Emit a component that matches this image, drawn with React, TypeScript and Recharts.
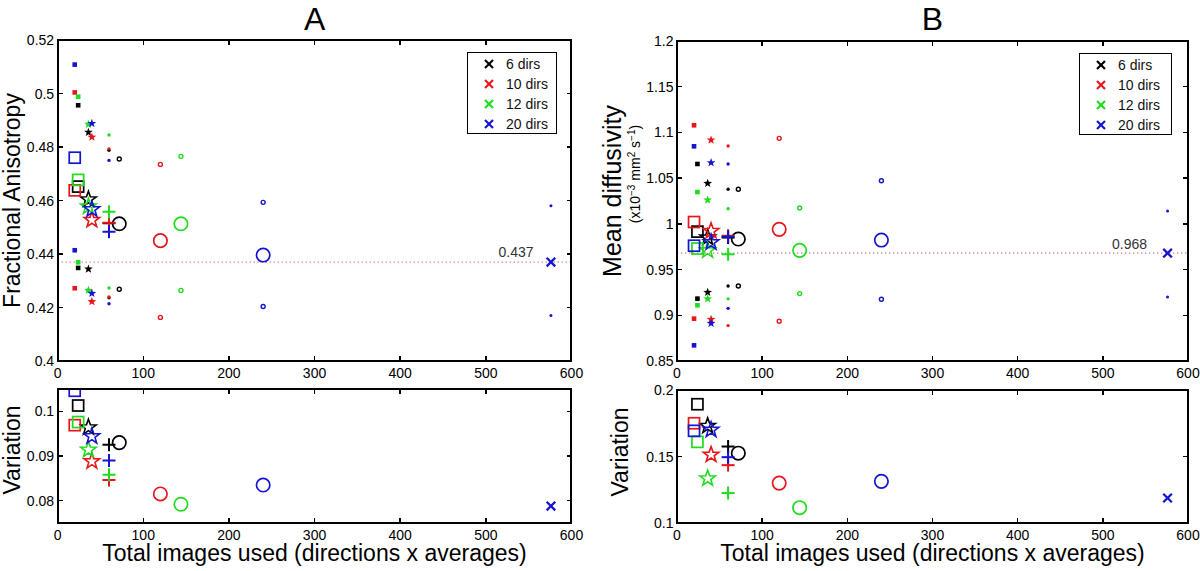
import React from 'react';
import { ScatterChart, Scatter, XAxis, YAxis, ReferenceLine, Legend } from 'recharts';

// ---------- data ----------
const dirLabels = ['6 dirs', '10 dirs', '12 dirs', '20 dirs'];
const markerKinds = ['square', 'star', 'plus', 'circle', 'cross'];

// total images used (directions x averages) for each marker of each scheme
const images6 = [24, 36, 60, 72];
const images10 = [20, 40, 60, 120];
const images12 = [24, 36, 60, 144];
const images20 = [20, 40, 60, 240, 576];

// Fractional anisotropy: mean, upper and lower values
const faMean6 = [0.4652, 0.4604, 0.4515, 0.4513];
const faMean10 = [0.4638, 0.4527, 0.4517, 0.445];
const faMean12 = [0.4677, 0.4577, 0.4558, 0.4513];
const faMean20 = [0.476, 0.4567, 0.4483, 0.4396, 0.437];
const faUpper6 = [0.4956, 0.4855, 0.4788, 0.4755];
const faUpper10 = [0.5004, 0.4837, 0.4793, 0.4735];
const faUpper12 = [0.4988, 0.4885, 0.4845, 0.4765];
const faUpper20 = [0.5108, 0.4888, 0.475, 0.4593, 0.458];
const faLower6 = [0.4348, 0.4344, 0.4236, 0.4268];
const faLower10 = [0.4272, 0.4222, 0.4239, 0.4163];
const faLower12 = [0.4369, 0.4264, 0.4273, 0.4264];
const faLower20 = [0.4414, 0.4253, 0.4214, 0.4204, 0.417];

// FA variation
const faVar6 = [0.1013, 0.0964, 0.0925, 0.093];
const faVar10 = [0.0969, 0.0888, 0.0846, 0.0815];
const faVar12 = [0.0976, 0.0914, 0.0858, 0.0792];
const faVar20 = [0.1046, 0.0944, 0.089, 0.0835, 0.0788];

// Mean diffusivity: mean, upper and lower values
const mdMean6 = [0.9915, 0.985, 0.985, 0.9834];
const mdMean10 = [1.002, 0.9922, 0.987, 0.994];
const mdMean12 = [0.973, 0.971, 0.9667, 0.971];
const mdMean20 = [0.9761, 0.9798, 0.986, 0.9823, 0.968];
const mdUpper6 = [1.0655, 1.0443, 1.0378, 1.0378];
const mdUpper10 = [1.1078, 1.0917, 1.0852, 1.0935];
const mdUpper12 = [1.0348, 1.0261, 1.0166, 1.0173];
const mdUpper20 = [1.0848, 1.0669, 1.0655, 1.0472, 1.014];
const mdLower6 = [0.9182, 0.9251, 0.932, 0.932];
const mdLower10 = [0.8963, 0.8956, 0.8887, 0.8934];
const mdLower12 = [0.9109, 0.918, 0.918, 0.9237];
const mdLower20 = [0.8671, 0.8912, 0.9076, 0.9175, 0.92];

// MD variation
const mdVar6 = [0.1893, 0.173, 0.1575, 0.1525];
const mdVar10 = [0.175, 0.1513, 0.1435, 0.13];
const mdVar12 = [0.161, 0.1335, 0.1225, 0.1115];
const mdVar20 = [0.1693, 0.17, 0.1495, 0.1313, 0.1188];

const xTicks = [0, 100, 200, 300, 400, 500, 600];
const faTicks = [0.4, 0.42, 0.44, 0.46, 0.48, 0.5, 0.52];
const faVarTicks = [0.08, 0.09, 0.1];
const mdTicks = [0.85, 0.9, 0.95, 1, 1.05, 1.1, 1.15, 1.2];
const mdVarTicks = [0.1, 0.15, 0.2];
const faReference = 0.437;
const mdReference = 0.968;

// ---------- styles ----------
const FONT = '"Liberation Sans", Arial, Helvetica, sans-serif';
const groupColors = ['#000000', '#e8161b', '#1edc1e', '#1414d2'];
const FRAME_W = 2;
const TICK_W = 1.5;
const TICK_PX = 5;
const X_DOMAIN: [number, number] = [0, 600];

const imagesByGroup = [images6, images10, images12, images20];

type Pt = { x: number; y: number; kind: string };
type Series = { key: string; group: number; big: boolean; data: Pt[] };

function buildSeries(level: string, groups: number[][]): Series[] {
  return groups.map((vals, g) => ({
    key: level + g,
    group: g,
    big: level === 'mean',
    data: vals.map((y, i) => ({ x: imagesByGroup[g][i], y, kind: markerKinds[i] })),
  }));
}

function starPath(cx: number, cy: number, R: number, r: number) {
  let d = '';
  for (let i = 0; i < 10; i++) {
    const a = -Math.PI / 2 + (i * Math.PI) / 5;
    const rad = i % 2 === 0 ? R : r;
    d += (i === 0 ? 'M' : 'L') + (cx + rad * Math.cos(a)).toFixed(2) + ',' + (cy + rad * Math.sin(a)).toFixed(2);
  }
  return d + 'Z';
}

function Marker({ kind, big, color, cx, cy }: { kind: string; big: boolean; color: string; cx: number; cy: number }) {
  if (cx == null || cy == null || isNaN(cx) || isNaN(cy)) return <g />;
  if (kind === 'square') {
    return big ? (
      <rect x={cx - 5.5} y={cy - 5.5} width={11} height={11} fill="none" stroke={color} strokeWidth={1.7} />
    ) : (
      <rect x={cx - 2.3} y={cy - 2.3} width={4.6} height={4.6} fill={color} />
    );
  }
  if (kind === 'star') {
    return big ? (
      <path d={starPath(cx, cy, 8.2, 3.3)} fill="none" stroke={color} strokeWidth={1.6} />
    ) : (
      <path d={starPath(cx, cy, 4.6, 1.9)} fill={color} />
    );
  }
  if (kind === 'plus') {
    return big ? (
      <g stroke={color} strokeWidth={2}>
        <line x1={cx - 6.5} y1={cy} x2={cx + 6.5} y2={cy} />
        <line x1={cx} y1={cy - 6.5} x2={cx} y2={cy + 6.5} />
      </g>
    ) : (
      <circle cx={cx} cy={cy} r={1.7} fill={color} />
    );
  }
  if (kind === 'circle') {
    return big ? (
      <circle cx={cx} cy={cy} r={6.7} fill="none" stroke={color} strokeWidth={1.7} />
    ) : (
      <circle cx={cx} cy={cy} r={2} fill="none" stroke={color} strokeWidth={1.4} />
    );
  }
  return big ? (
    <g stroke={color} strokeWidth={2.3}>
      <line x1={cx - 4.3} y1={cy - 4.3} x2={cx + 4.3} y2={cy + 4.3} />
      <line x1={cx - 4.3} y1={cy + 4.3} x2={cx + 4.3} y2={cy - 4.3} />
    </g>
  ) : (
    <circle cx={cx} cy={cy} r={1.5} fill={color} />
  );
}

// ---------- tick labels ----------
const bottomTick = (p: any) => (
  <text x={p.x} y={p.y + 16.5} textAnchor="middle" fontSize={14} fontFamily={FONT} fill="#000">
    {String(p.payload.value)}
  </text>
);
const leftTick = (p: any) => (
  <text x={p.x - 3.5} y={p.y} dy="0.36em" textAnchor="end" fontSize={14} fontFamily={FONT} fill="#000">
    {String(p.payload.value)}
  </text>
);

// ---------- legend ----------
function LegendBox({ width }: { width: number }) {
  return (
    <div
      style={{
        width,
        height: 82,
        boxSizing: 'border-box',
        border: '1.5px solid #000',
        background: '#fff',
        paddingTop: 1,
        fontFamily: FONT,
        fontSize: 14,
        color: '#111',
      }}
    >
      {dirLabels.map((label, i) => (
        <div key={label} style={{ height: 20, position: 'relative' }}>
          <svg width={12} height={12} style={{ position: 'absolute', left: 15, top: 4 }}>
            <g stroke={groupColors[i]} strokeWidth={2.2}>
              <line x1={2} y1={2} x2={10} y2={10} />
              <line x1={2} y1={10} x2={10} y2={2} />
            </g>
          </svg>
          <span style={{ position: 'absolute', left: 38, top: 1, lineHeight: '18px' }}>{label}</span>
        </div>
      ))}
    </div>
  );
}

// ---------- panel ----------
type Plot = { left: number; top: number; right: number; bottom: number };
type PanelProps = {
  pos: { left: number; top: number; width: number; height: number };
  plot: Plot;
  yDomain: [number, number];
  yTicks: number[];
  series: Series[];
  reference?: { value: number; text: string; inset: number; rise: number };
  title?: string;
  yLabel: () => React.ReactElement;
  xLabel?: string;
  legend?: { left: number; top: number; width: number };
};

// axes box with inward tick marks on all four sides (placed from the tick lists)
function FrameOverlay({ plot, yDomain, yTicks }: { plot: Plot; yDomain: [number, number]; yTicks: number[] }) {
  const pw = plot.right - plot.left;
  const ph = plot.bottom - plot.top;
  const sx = (v: number) => plot.left + ((v - X_DOMAIN[0]) / (X_DOMAIN[1] - X_DOMAIN[0])) * pw;
  const sy = (v: number) => plot.top + ((yDomain[1] - v) / (yDomain[1] - yDomain[0])) * ph;
  const bar = (key: string, left: number, top: number, width: number, height: number) => (
    <div key={key} style={{ position: 'absolute', left, top, width, height, background: '#000' }} />
  );
  return (
    <div style={{ position: 'absolute', left: 0, top: 0, width: 0, height: 0, pointerEvents: 'none' }}>
      <div
        style={{
          position: 'absolute',
          left: plot.left - FRAME_W / 2,
          top: plot.top - FRAME_W / 2,
          width: pw + FRAME_W,
          height: ph + FRAME_W,
          boxSizing: 'border-box',
          border: `${FRAME_W}px solid #000`,
        }}
      />
      {xTicks.map((t) => bar('xb' + t, sx(t) - TICK_W / 2, plot.bottom - TICK_PX, TICK_W, TICK_PX))}
      {xTicks.map((t) => bar('xt' + t, sx(t) - TICK_W / 2, plot.top, TICK_W, TICK_PX))}
      {yTicks.map((t) => bar('yl' + t, plot.left, sy(t) - TICK_W / 2, TICK_PX, TICK_W))}
      {yTicks.map((t) => bar('yr' + t, plot.right - TICK_PX, sy(t) - TICK_W / 2, TICK_PX, TICK_W))}
    </div>
  );
}

function Panel({ pos, plot, yDomain, yTicks, series, reference, title, yLabel, xLabel, legend }: PanelProps) {
  const margin = { top: plot.top, right: pos.width - plot.right, bottom: 0, left: 0 };
  const cx = (plot.left + plot.right) / 2;
  const ph = plot.bottom - plot.top;
  const [y0, y1] = yDomain;

  return (
    <div style={{ position: 'absolute', left: pos.left, top: pos.top }}>
      <ScatterChart width={pos.width} height={pos.height} margin={margin}>
        <XAxis
          type="number"
          dataKey="x"
          domain={X_DOMAIN}
          ticks={xTicks}
          interval={0}
          allowDataOverflow
          height={pos.height - plot.bottom}
          tickSize={0}
          tickMargin={0}
          tickLine={false}
          axisLine={false}
          tick={bottomTick}
          label={
            xLabel
              ? () => (
                  <text x={cx} y={plot.bottom + 38} textAnchor="middle" fontSize={23} fontFamily={FONT} fill="#000">
                    {xLabel}
                  </text>
                )
              : undefined
          }
        />
        <YAxis
          type="number"
          dataKey="y"
          domain={yDomain}
          ticks={yTicks}
          interval={0}
          allowDataOverflow
          width={plot.left}
          tickSize={0}
          tickMargin={0}
          tickLine={false}
          axisLine={false}
          tick={leftTick}
          label={() => (
            <g>
              {title && (
                <text x={cx} y={30} textAnchor="middle" fontSize={32} fontFamily={FONT} fill="#000">
                  {title}
                </text>
              )}
              {yLabel()}
            </g>
          )}
        />
        {reference && (
          <ReferenceLine
            y={reference.value}
            stroke="#e07a7a"
            strokeWidth={1.3}
            strokeDasharray="1.3 2.7"
            label={() => (
              <text
                x={plot.right - reference.inset}
                y={plot.top + ((y1 - reference.value) / (y1 - y0)) * ph - reference.rise}
                textAnchor="end"
                fontSize={14}
                fontFamily={FONT}
                fill="#333"
              >
                {reference.text}
              </text>
            )}
          />
        )}
        {series.map((s) => (
          <Scatter
            key={s.key}
            data={s.data}
            isAnimationActive={false}
            shape={(p: any) => (
              <Marker kind={p.payload?.kind ?? 'circle'} big={s.big} color={groupColors[s.group]} cx={p.cx} cy={p.cy} />
            )}
          />
        ))}
        {legend && (
          <Legend
            layout="horizontal"
            verticalAlign="middle"
            align="center"
            wrapperStyle={{ left: legend.left, top: legend.top, width: legend.width, height: 82 }}
            content={() => <LegendBox width={legend.width} />}
          />
        )}
      </ScatterChart>
      <FrameOverlay plot={plot} yDomain={yDomain} yTicks={yTicks} />
    </div>
  );
}

const rotText = (x: number, y: number, size: number, text: string) => (
  <text x={x} y={y} transform={`rotate(-90, ${x}, ${y})`} textAnchor="middle" fontSize={size} fontFamily={FONT} fill="#000">
    {text}
  </text>
);

const faSeries = [
  ...buildSeries('upper', [faUpper6, faUpper10, faUpper12, faUpper20]),
  ...buildSeries('lower', [faLower6, faLower10, faLower12, faLower20]),
  ...buildSeries('mean', [faMean6, faMean10, faMean12, faMean20]),
];
const faVarSeries = buildSeries('mean', [faVar6, faVar10, faVar12, faVar20]);
const mdSeries = [
  ...buildSeries('upper', [mdUpper6, mdUpper10, mdUpper12, mdUpper20]),
  ...buildSeries('lower', [mdLower6, mdLower10, mdLower12, mdLower20]),
  ...buildSeries('mean', [mdMean6, mdMean10, mdMean12, mdMean20]),
];
const mdVarSeries = buildSeries('mean', [mdVar6, mdVar10, mdVar12, mdVar20]);

const X_LABEL = 'Total images used (directions x averages)';

export default function App() {
  return (
    <div style={{ position: 'absolute', left: 0, top: 0, width: 1200, height: 571, background: '#fff', fontFamily: FONT }}>
      <Panel
        pos={{ left: 0, top: 0, width: 600, height: 390 }}
        plot={{ left: 57.6, top: 40, right: 571.5, bottom: 361 }}
        yDomain={[0.4, 0.52]}
        yTicks={faTicks}
        series={faSeries}
        reference={{ value: faReference, text: '0.437', inset: 38, rise: 5 }}
        title="A"
        yLabel={() => rotText(20, 200.5, 23, 'Fractional Anisotropy')}
        legend={{ left: 467, top: 52, width: 90 }}
      />
      <Panel
        pos={{ left: 0, top: 370, width: 600, height: 201 }}
        plot={{ left: 57.6, top: 19, right: 571.5, bottom: 153 }}
        yDomain={[0.075, 0.105]}
        yTicks={faVarTicks}
        series={faVarSeries}
        yLabel={() => rotText(20, 80, 23, 'Variation')}
        xLabel={X_LABEL}
      />
      <Panel
        pos={{ left: 590, top: 0, width: 610, height: 390 }}
        plot={{ left: 87, top: 41, right: 598, bottom: 361 }}
        yDomain={[0.85, 1.2]}
        yTicks={mdTicks}
        series={mdSeries}
        reference={{ value: mdReference, text: '0.968', inset: 41, rise: 4 }}
        title="B"
        yLabel={() => (
          <g>
            {rotText(31, 191, 25, 'Mean diffusivity')}
            <text
              x={50}
              y={174}
              transform="rotate(-90, 50, 174)"
              textAnchor="middle"
              fontSize={14}
              fontFamily={FONT}
              fill="#000"
            >
              (x10
              <tspan dy={-5} fontSize={10}>
                −3
              </tspan>
              <tspan dy={5}> mm</tspan>
              <tspan dy={-5} fontSize={10}>
                2
              </tspan>
              <tspan dy={5}> s</tspan>
              <tspan dy={-5} fontSize={10}>
                −1
              </tspan>
              <tspan dy={5}>)</tspan>
            </text>
          </g>
        )}
        legend={{ left: 489, top: 53, width: 93 }}
      />
      <Panel
        pos={{ left: 590, top: 370, width: 610, height: 201 }}
        plot={{ left: 87, top: 20, right: 598, bottom: 153 }}
        yDomain={[0.1, 0.2]}
        yTicks={mdVarTicks}
        series={mdVarSeries}
        yLabel={() => rotText(38, 82, 23, 'Variation')}
        xLabel={X_LABEL}
      />
    </div>
  );
}
